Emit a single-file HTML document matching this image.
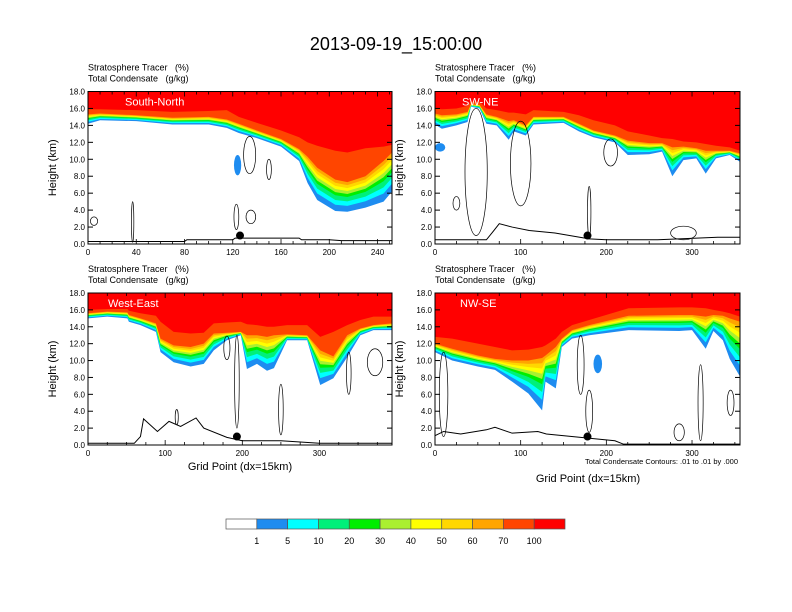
<!DOCTYPE html>
<html><head><meta charset="utf-8"><style>
html,body{margin:0;padding:0;background:#fff;}
svg{display:block;font-family:"Liberation Sans",sans-serif;}
.pre{white-space:pre;}
</style></head><body>
<svg id="chart" width="792" height="612" viewBox="0 0 792 612" xmlns="http://www.w3.org/2000/svg">
<rect x="0" y="0" width="792" height="612" fill="#fff"/>
<text x="396" y="50" font-size="18" text-anchor="middle">2013-09-19_15:00:00</text>
<g id="panels"></g>
<g id="colorbar"></g>
<text x="240" y="470" font-size="11" text-anchor="middle">Grid Point (dx=15km)</text>
<text x="588" y="482" font-size="11" text-anchor="middle">Grid Point (dx=15km)</text>
<text x="738" y="464" font-size="7.5" text-anchor="end">Total Condensate Contours: .01 to .01 by .000</text>
</svg>
<script>
// ---- data ----
const levelLabels = ["1","5","10","20","30","40","50","60","70","100"];
const levelColors = ["#ffffff","#1e8cf0","#00ffff","#00f07a","#00ee00","#aaf030","#ffff00","#ffd700","#ffa500","#ff4500","#ff0000"];
const panelNames = ["South-North","SW-NE","West-East","NW-SE"];
const panelXMax = [252, 356, 394, 356];
const panelXTicks = [[0,40,80,120,160,200,240],[0,100,200,300],[0,100,200,300],[0,100,200,300]];
const yTicks = [0,2,4,6,8,10,12,14,16,18];

const p1X    = [0,10,40,70,100,115,125,140,160,175,182,190,205,215,230,245,252];
const p1Base = [14.2,14.6,14.5,14.1,14.1,13.7,13.1,12.5,11.5,9.8,7.2,5.2,3.9,3.8,4.3,5.0,6.2];
const p1Z70  = [15.3,15.4,15.2,14.9,15.0,14.7,14.2,13.4,12.4,11.2,10.3,9.0,7.6,7.3,8.0,9.8,10.8];
const p1Z100 = [15.9,15.9,15.8,15.6,15.7,15.8,15.0,14.3,13.4,12.6,12.0,11.6,11.0,10.8,11.3,11.5,11.7];

const p2X    = [0,8,25,38,42,52,60,72,86,92,106,115,150,168,185,210,225,250,265,277,290,305,316,328,344,356];
const p2Base = [14.1,13.6,14.0,14.4,16.2,16.0,14.2,14.0,12.3,13.3,12.8,14.1,14.3,13.3,12.6,12.0,10.5,10.6,10.9,8.0,9.9,10.1,8.3,10.1,10.5,9.7];
const p2Z70  = [15.4,15.2,15.3,15.6,16.5,16.4,15.3,15.0,14.5,14.6,14.0,15.0,15.0,14.2,13.4,12.8,12.2,11.9,11.9,11.4,11.5,11.3,11.0,11.0,11.0,10.7];
const p2Z100 = [16.0,15.9,16.0,16.3,16.8,16.8,16.0,15.8,15.5,15.5,15.3,15.8,15.6,15.2,14.6,14.0,13.3,12.8,12.5,12.4,12.1,12.0,11.8,11.6,11.4,11.0];

const p3X    = [0,25,51,53,68,88,94,111,133,150,163,180,198,206,219,232,241,258,284,301,318,336,353,370,394];
const p3Base = [15.0,15.2,15.0,14.6,14.2,13.4,11.0,9.8,9.3,9.6,11.2,12.4,13.0,9.0,9.6,8.8,9.1,12.4,12.4,7.1,7.9,10.4,13.0,13.6,13.6];
const p3Z70  = [15.6,15.8,15.7,15.4,15.0,14.4,12.6,11.8,11.6,12.0,13.2,13.3,13.4,13.0,13.0,12.8,13.0,13.1,13.0,11.2,10.5,13.0,13.8,14.2,14.4];
const p3Z100 = [16.0,16.1,16.1,15.9,15.6,15.3,14.6,13.4,13.2,13.3,14.4,14.5,14.6,14.3,14.2,14.0,14.0,14.2,14.2,12.8,13.4,14.2,14.8,15.2,15.2];

const p4X    = [0,20,50,70,90,109,125,129,141,148,160,180,226,285,300,316,325,336,344,356];
const p4Base = [11.0,10.0,9.3,8.9,7.5,6.1,4.1,7.5,6.7,11.6,12.6,13.0,13.6,13.5,13.6,11.4,13.5,12.4,10.2,8.1];
const p4Z70  = [12.0,11.4,10.6,10.2,10.0,10.0,10.3,10.6,11.6,12.6,13.6,14.2,15.3,15.4,15.4,15.2,15.4,15.3,15.0,14.6];
const p4Z100 = [12.8,12.6,12.0,11.6,11.2,11.3,11.6,11.8,12.6,13.4,14.2,14.8,16.2,16.3,16.3,16.2,16.0,15.8,15.6,15.2];

// isolated blue patches: [x, height, halfwidth(grid), halfheight(km)]
const p1Blobs = [[124,9.3,3,1.2]];
const p2Blobs = [[6,11.4,6,0.5]];
const p3Blobs = [];
const p4Blobs = [[190,9.6,5,1.1]];

// terrain contour lines
const p1TerrX = [0,80,82,120,122,175,177,200,210,252];
const p1TerrH = [0.3,0.3,0.5,0.5,0.7,0.7,0.5,0.5,0.4,0.4];
const p2TerrX = [0,60,68,75,90,110,140,180,200,260,330,356];
const p2TerrH = [0.5,0.5,1.5,2.4,2.0,1.6,1.3,0.6,0.5,0.5,0.8,0.8];
const p3TerrX = [0,60,68,72,90,105,120,140,150,180,200,250,300,394];
const p3TerrH = [0.2,0.2,1.0,3.1,1.6,2.8,2.2,3.2,2.0,0.9,0.5,0.5,0.2,0.2];
const p4TerrX = [0,10,30,60,70,90,120,130,170,210,220,356];
const p4TerrH = [1.1,1.6,1.3,1.8,2.1,1.4,1.6,1.3,0.9,0.5,0.1,0.1];

// cloud contour ellipses: [x, height, halfwidth(grid), halfheight(km)]
const p1Clouds = [[134,10.5,5,2.2],[150,8.8,2,1.2],[5,2.7,3,0.5],[123,3.2,2,1.5],[135,3.2,4,0.8],[37,2.6,1,2.4]];
const p2Clouds = [[48,8.5,13,7.5],[100,9.5,12,5.0],[180,3.8,2,3.0],[205,10.8,8,1.6],[25,4.8,4,0.8],[290,1.3,15,0.8]];
const p3Clouds = [[193,7.5,3,5.5],[180,11.5,4,1.4],[250,4.2,3,3.0],[338,8.5,3,2.5],[372,9.8,10,1.6],[115,3.3,2,0.9]];
const p4Clouds = [[10,6.0,5,5.0],[170,9.5,4,3.5],[180,4.0,4,2.5],[310,5.0,3,4.5],[285,1.5,6,1.0],[345,5.0,4,1.5]];
const dotX = [126,178,193,178];
const dotH = [1.0,1.0,1.0,1.0];

// ---- layout (pixels) ----
const frames = [[88,91.5,392,244],[435,91.5,740,244],[88,293,392,445],[435,293,740,445]];
const fracs = [0,0.2,0.35,0.5,0.6,0.7,0.8,0.9,1.0];

const allX=[p1X,p2X,p3X,p4X], allB=[p1Base,p2Base,p3Base,p4Base], all70=[p1Z70,p2Z70,p3Z70,p4Z70], all100=[p1Z100,p2Z100,p3Z100,p4Z100];
const allBlobs=[p1Blobs,p2Blobs,p3Blobs,p4Blobs], allTX=[p1TerrX,p2TerrX,p3TerrX,p4TerrX], allTH=[p1TerrH,p2TerrH,p3TerrH,p4TerrH], allClouds=[p1Clouds,p2Clouds,p3Clouds,p4Clouds];
const NS="http://www.w3.org/2000/svg";
function mk(tag, attrs, parent){const e=document.createElementNS(NS,tag);for(const k in attrs)e.setAttribute(k,attrs[k]);parent.appendChild(e);return e;}
const root=document.getElementById('panels');

for(let p=0;p<4;p++){
  const [x0,y0,x1,y1]=frames[p];
  const sx=v=>x0+(v/panelXMax[p])*(x1-x0);
  const sy=h=>y1-(h/18)*(y1-y0);
  const g=mk('g',{},root);
  
  
  const cid='clip'+p;
  const cp=mk('clipPath',{id:cid},g); mk('rect',{x:x0,y:y0,width:x1-x0,height:y1-y0},cp);
  const plot=mk('g',{'clip-path':'url(#'+cid+')'},g);
  const xs=allX[p];
  const lvl=(k,i)=>k<=8?allB[p][i]+(all70[p][i]-allB[p][i])*fracs[k]:all100[p][i];
  for(let k=0;k<10;k++){
    const pts=[];
    pts.push((sx(xs[0])-2)+','+(y0-2));
    pts.push((sx(xs[0])-2)+','+sy(lvl(k,0)));
    for(let i=0;i<xs.length;i++){
      pts.push(sx(xs[i])+','+sy(lvl(k,i)));
    }
    const n=xs.length-1;
    pts.push((sx(xs[n])+2)+','+sy(lvl(k,n)));
    pts.push((sx(xs[n])+2)+','+(y0-2));
    const poly=mk('polygon',{points:pts.join(' '),fill:levelColors[k+1]},plot);
    
    
  }
  allBlobs[p].forEach(b=>{
    const e=mk('ellipse',{cx:sx(b[0]),cy:sy(b[1]),rx:sx(b[2])-x0,ry:(b[3]/18)*(y1-y0),fill:levelColors[1]},plot);
    
    
  });
  allClouds[p].forEach(c=>{
    const e=mk('ellipse',{cx:sx(c[0]),cy:sy(c[1]),rx:sx(c[2])-x0,ry:(c[3]/18)*(y1-y0),fill:'none',stroke:'#000','stroke-width':0.7},plot);
    
    
  });
  const tp=allTX[p].map((v,i)=>sx(v)+','+sy(allTH[p][i])).join(' ');
  const tl=mk('polyline',{points:tp,fill:'none',stroke:'#000','stroke-width':1},plot);
  
  
  const dot=mk('circle',{cx:sx(dotX[p]),cy:sy(dotH[p]),r:4,fill:'#000'},plot);
  
  
  const lab=mk('text',{x:x0+(p===0?37:p===1?27:p===2?20:25),y:y0+14,'font-size':11,fill:'#fff'},g);
  lab.textContent=panelNames[p];
  
  
  const fr=mk('rect',{x:x0,y:y0,width:x1-x0,height:y1-y0,fill:'none',stroke:'#000','stroke-width':1},g);
  
  
  yTicks.forEach(t=>{
    mk('line',{x1:x0,x2:x0+5,y1:sy(t),y2:sy(t),stroke:'#000'},g);
    mk('line',{x1:x1,x2:x1-5,y1:sy(t),y2:sy(t),stroke:'#000'},g);
    const tx=mk('text',{x:x0-3,y:sy(t)+3,'font-size':8,'text-anchor':'end'},g);
    tx.textContent=t.toFixed(1);
    
    
  });
  const step=p===0?10:25;
  for(let v=0;v<=panelXMax[p];v+=step){
    const major=panelXTicks[p].includes(v);
    mk('line',{x1:sx(v),x2:sx(v),y1:y1,y2:y1-(major?5:3),stroke:'#000','stroke-width':0.8},g);
    mk('line',{x1:sx(v),x2:sx(v),y1:y0,y2:y0+(major?5:3),stroke:'#000','stroke-width':0.8},g);
  }
  panelXTicks[p].forEach(t=>{
    const tx=mk('text',{x:sx(t),y:y1+11,'font-size':8,'text-anchor':'middle'},g);
    tx.textContent=t;
    
    
  });
  const yt=mk('text',{x:0,y:0,'font-size':11,'text-anchor':'middle',transform:'translate('+(x0-32)+','+((y0+y1)/2)+') rotate(-90)'},g);
  yt.textContent='Height (km)';
  
  
  const h1=mk('text',{x:x0,y:y0-21,'font-size':9,'class':'pre'},g);
  h1.textContent='Stratosphere Tracer   (%)';
  
  
  const h2=mk('text',{x:x0,y:y0-10,'font-size':9,'class':'pre'},g);
  h2.textContent='Total Condensate   (g/kg)';
  
  
}
const cb=document.getElementById('colorbar');
const cbX=226, cbW=339, cbY=519, cbH=10, bw=cbW/levelColors.length;
levelColors.forEach((c,i)=>{
  const r=mk('rect',{x:cbX+i*bw,y:cbY,width:bw,height:cbH,fill:c,stroke:'#555','stroke-width':0.7},cb);
  
  
});
levelLabels.forEach((l,i)=>{
  const t=mk('text',{x:cbX+(i+1)*bw,y:544,'font-size':9,'text-anchor':'middle'},cb);
  t.textContent=l;
  
  
});
</script>
</body></html>
